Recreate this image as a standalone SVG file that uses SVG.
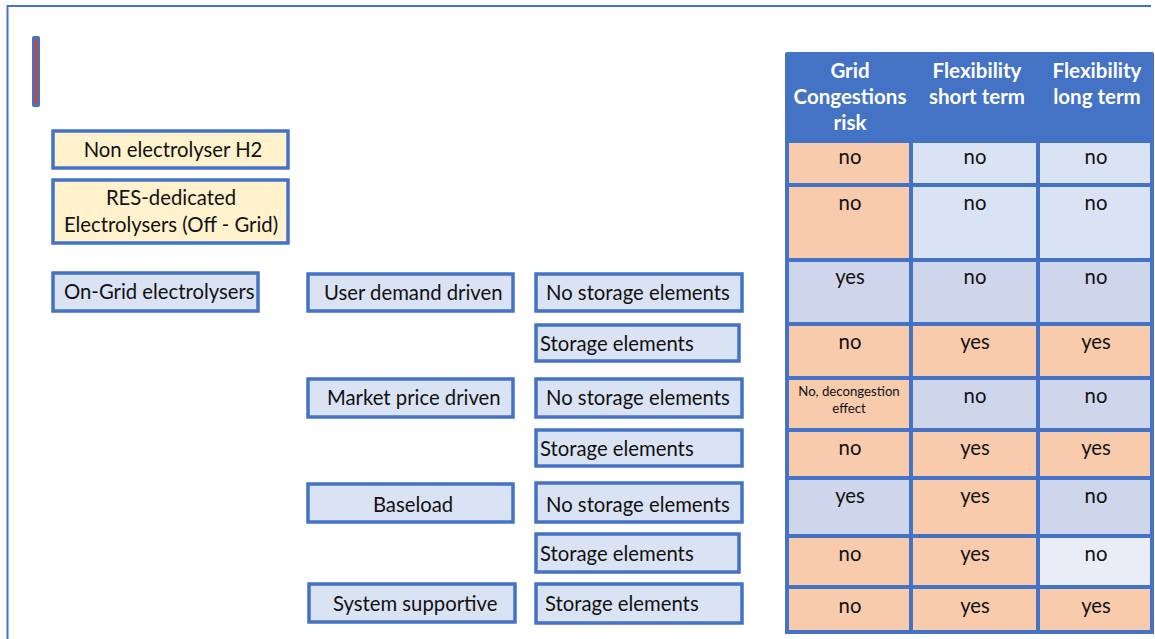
<svg xmlns="http://www.w3.org/2000/svg" width="1155" height="639" viewBox="0 0 1155 639">
  <style>
    text { font-family: Lato, "Open Sans", "Liberation Sans", sans-serif; font-size: 20.3px; fill: #111; }
    .c { text-anchor: middle; }
    .hd { fill: #fff; font-weight: bold; text-anchor: middle; font-size: 20.5px; }
    .sm { font-size: 13.2px; text-anchor: middle; }
    .yel { fill: #FFF2CC; stroke: #4472C4; stroke-width: 3.5; }
    .blu { fill: #DAE3F3; stroke: #4472C4; stroke-width: 3.5; }
    .cell { stroke: #4472C4; stroke-width: 4; }
    .or { fill: #F8CBAD; }
    .lb { fill: #DAE3F3; }
    .lv { fill: #CFD5EA; }
    .pl { fill: #E9EDF7; }
  </style>

  <!-- page frame -->
  <path d="M7.5 639 V6 H1151" fill="none" stroke="#4472C4" stroke-width="2"/>

  <!-- marker bar -->
  <rect x="32" y="36" width="8" height="71" rx="2" fill="#4472C4"/>
  <rect x="35" y="39" width="2.5" height="65" fill="#E0401C"/>

  <!-- category boxes -->
  <g id="non-electrolyser">
    <rect class="yel" x="53" y="131" width="235" height="37"/>
    <text class="c" x="173" y="157">Non electrolyser H2</text>
  </g>
  <g id="res-dedicated">
    <rect class="yel" x="53" y="180" width="235" height="63"/>
    <text class="c" x="171" y="205">RES-dedicated</text>
    <text class="c" x="171" y="232">Electrolysers (Off - Grid)</text>
  </g>
  <g id="on-grid">
    <rect class="blu" x="53" y="273" width="205" height="38"/>
    <text x="64" y="299">On-Grid electrolysers</text>
  </g>

  <g id="user-demand">
    <rect class="blu" x="308" y="274" width="205" height="37"/>
    <text x="324" y="300">User demand driven</text>
  </g>
  <g id="market-price">
    <rect class="blu" x="308" y="379" width="205" height="38"/>
    <text x="327" y="405">Market price driven</text>
  </g>
  <g id="baseload">
    <rect class="blu" x="308" y="484" width="205" height="38"/>
    <text class="c" x="413" y="512">Baseload</text>
  </g>
  <g id="system-supportive">
    <rect class="blu" x="309" y="584" width="206" height="38"/>
    <text x="333" y="611">System supportive</text>
  </g>

  <g id="ud-no-storage">
    <rect class="blu" x="536" y="274" width="206" height="37"/>
    <text x="546" y="300">No storage elements</text>
  </g>
  <g id="ud-storage">
    <rect class="blu" x="536" y="325" width="203" height="36"/>
    <text x="540" y="351">Storage elements</text>
  </g>
  <g id="mp-no-storage">
    <rect class="blu" x="536" y="379" width="206" height="38"/>
    <text x="546" y="405">No storage elements</text>
  </g>
  <g id="mp-storage">
    <rect class="blu" x="536" y="430" width="206" height="36"/>
    <text x="540" y="456">Storage elements</text>
  </g>
  <g id="bl-no-storage">
    <rect class="blu" x="536" y="483" width="206" height="39"/>
    <text x="546" y="512">No storage elements</text>
  </g>
  <g id="bl-storage">
    <rect class="blu" x="536" y="534" width="203" height="38"/>
    <text x="540" y="561">Storage elements</text>
  </g>
  <g id="ss-storage">
    <rect class="blu" x="536" y="584" width="206" height="39"/>
    <text x="545" y="611">Storage elements</text>
  </g>

  <!-- assessment table -->
  <g id="table">
    <rect x="785" y="52" width="369" height="91" rx="2" fill="#4472C4"/>
    <text class="hd" x="850" y="78">Grid</text>
    <text class="hd" x="850" y="104">Congestions</text>
    <text class="hd" x="850" y="130">risk</text>
    <text class="hd" x="977" y="78">Flexibility</text>
    <text class="hd" x="977" y="104">short term</text>
    <text class="hd" x="1097" y="78">Flexibility</text>
    <text class="hd" x="1097" y="104">long term</text>

    <!-- row 1 -->
    <rect class="cell or" x="787" y="141" width="124" height="44"/>
    <rect class="cell lb" x="911" y="141" width="127" height="44"/>
    <rect class="cell lb" x="1038" y="141" width="114" height="44"/>
    <text class="c" x="850" y="164">no</text>
    <text class="c" x="975" y="164">no</text>
    <text class="c" x="1096" y="164">no</text>
    <!-- row 2 -->
    <rect class="cell or" x="787" y="185" width="124" height="75"/>
    <rect class="cell lb" x="911" y="185" width="127" height="75"/>
    <rect class="cell lb" x="1038" y="185" width="114" height="75"/>
    <text class="c" x="850" y="210">no</text>
    <text class="c" x="975" y="210">no</text>
    <text class="c" x="1096" y="210">no</text>
    <!-- row 3 -->
    <rect class="cell lv" x="787" y="260" width="124" height="64"/>
    <rect class="cell lv" x="911" y="260" width="127" height="64"/>
    <rect class="cell lv" x="1038" y="260" width="114" height="64"/>
    <text class="c" x="850" y="284">yes</text>
    <text class="c" x="975" y="284">no</text>
    <text class="c" x="1096" y="284">no</text>
    <!-- row 4 -->
    <rect class="cell or" x="787" y="324" width="124" height="54"/>
    <rect class="cell or" x="911" y="324" width="127" height="54"/>
    <rect class="cell or" x="1038" y="324" width="114" height="54"/>
    <text class="c" x="850" y="349">no</text>
    <text class="c" x="975" y="349">yes</text>
    <text class="c" x="1096" y="349">yes</text>
    <!-- row 5 -->
    <rect class="cell or" x="787" y="378" width="124" height="52"/>
    <rect class="cell lv" x="911" y="378" width="127" height="52"/>
    <rect class="cell lv" x="1038" y="378" width="114" height="52"/>
    <text class="sm" x="849" y="396">No, decongestion</text>
    <text class="sm" x="849" y="413">effect</text>
    <text class="c" x="975" y="403">no</text>
    <text class="c" x="1096" y="403">no</text>
    <!-- row 6 -->
    <rect class="cell or" x="787" y="430" width="124" height="48"/>
    <rect class="cell or" x="911" y="430" width="127" height="48"/>
    <rect class="cell or" x="1038" y="430" width="114" height="48"/>
    <text class="c" x="850" y="455">no</text>
    <text class="c" x="975" y="455">yes</text>
    <text class="c" x="1096" y="455">yes</text>
    <!-- row 7 -->
    <rect class="cell lv" x="787" y="478" width="124" height="58"/>
    <rect class="cell or" x="911" y="478" width="127" height="58"/>
    <rect class="cell lv" x="1038" y="478" width="114" height="58"/>
    <text class="c" x="850" y="503">yes</text>
    <text class="c" x="975" y="503">yes</text>
    <text class="c" x="1096" y="503">no</text>
    <!-- row 8 -->
    <rect class="cell or" x="787" y="536" width="124" height="51"/>
    <rect class="cell or" x="911" y="536" width="127" height="51"/>
    <rect class="cell pl" x="1038" y="536" width="114" height="51"/>
    <text class="c" x="850" y="561">no</text>
    <text class="c" x="975" y="561">yes</text>
    <text class="c" x="1096" y="561">no</text>
    <!-- row 9 -->
    <rect class="cell or" x="787" y="587" width="124" height="45"/>
    <rect class="cell or" x="911" y="587" width="127" height="45"/>
    <rect class="cell or" x="1038" y="587" width="114" height="45"/>
    <text class="c" x="850" y="613">no</text>
    <text class="c" x="975" y="613">yes</text>
    <text class="c" x="1096" y="613">yes</text>
  </g>
</svg>
